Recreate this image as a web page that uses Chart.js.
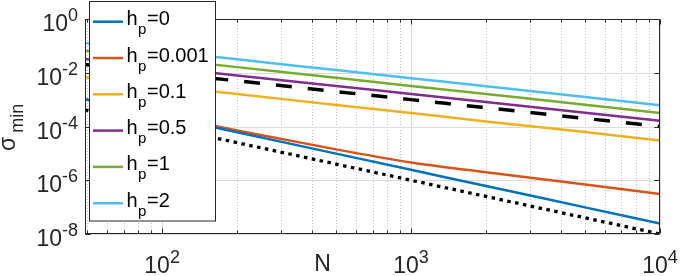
<!DOCTYPE html>
<html>
<head>
<meta charset="utf-8">
<script src="https://cdn.jsdelivr.net/npm/chart.js@4.4.1/dist/chart.umd.min.js"></script>
<style>
    html, body { margin: 0; padding: 0; background: #fff; }
    #wrap { width: 680px; height: 276px; }
</style>
</head>
<body>
<div id="wrap"><canvas id="sigmaChart" width="680" height="276"></canvas></div>
<script>
// Data (N on x, sigma_min on y)
const nValues = [49, 100, 200, 500, 1000, 2000, 5000, 10000];
const hp0 = [1.02e-3, 2.45e-4, 6.1e-5, 9.8e-6, 2.45e-6, 6.1e-7, 9.8e-8, 2.45e-8];
const hp0001 = [1.06e-3, 2.7e-4, 7.1e-5, 1.41e-5, 4.6e-6, 2.0e-6, 6.9e-7, 3.1e-7];
const hp01 = [6.75e-3, 3.24e-3, 1.62e-3, 6.3e-4, 3.16e-4, 1.55e-4, 6.2e-5, 3.0e-5];
const hp05 = [3.22e-2, 1.58e-2, 7.9e-3, 3.24e-3, 1.62e-3, 8.1e-4, 3.24e-4, 1.62e-4];
const hp1 = [6.6e-2, 3.24e-2, 1.62e-2, 6.46e-3, 3.24e-3, 1.62e-3, 6.46e-4, 3.16e-4];
const hp2 = [0.128, 6.3e-2, 3.16e-2, 1.26e-2, 6.3e-3, 3.16e-3, 1.26e-3, 6.2e-4];
const refDashed = [2.04e-2, 1e-2, 5e-3, 2e-3, 1e-3, 5e-4, 2e-4, 1e-4];
const refDotted = [4.16e-4, 1e-4, 2.5e-5, 4e-6, 1e-6, 2.5e-7, 4e-8, 1e-8];

const legendLabels = ['0', '0.001', '0.1', '0.5', '1', '2'];
const colors = ['#0072BD', '#D95319', '#EDB120', '#7E2F8E', '#77AC30', '#4DBEEE'];

// Ticks
const xMajorTicks = [100, 1000, 10000];
const xTickExp = ['2', '3', '4'];
const xMinorTicks = [50, 60, 70, 80, 90, 200, 300, 400, 500, 600, 700, 800, 900,
    2000, 3000, 4000, 5000, 6000, 7000, 8000, 9000];
const yMajorTicks = [1, 1e-2, 1e-4, 1e-6, 1e-8];
const yTickExp = ['0', '-2', '-4', '-6', '-8'];

const FONT = '"Liberation Sans", Arial, sans-serif';
const font = (size) => `${size}px ${FONT}`;

const toPoints = (ys) => nValues.map((n, i) => ({ x: n, y: ys[i] }));

const seriesList = [hp0, hp0001, hp01, hp05, hp1, hp2];

const datasets = seriesList.map((ys, i) => ({
    label: 'h_p=' + legendLabels[i],
    data: toPoints(ys),
    borderColor: colors[i],
    borderWidth: 2.5
}));
datasets.push({
    label: 'ref 1/N',
    data: toPoints(refDashed),
    borderColor: '#000',
    borderWidth: 3.5,
    borderDash: [16, 16],
    borderCapStyle: 'butt'
});
datasets.push({
    label: 'ref 1/N^2',
    data: toPoints(refDotted),
    borderColor: '#000',
    borderWidth: 3.3,
    borderDash: [3.5, 4.5],
    borderCapStyle: 'butt'
});

const line = (ctx, x1, y1, x2, y2) => {
    ctx.beginPath();
    ctx.moveTo(x1, y1);
    ctx.lineTo(x2, y2);
    ctx.stroke();
};

// "10" with a raised exponent
const drawPower = (ctx, exp, x, baseline, align) => {
    ctx.font = font(23);
    const wBase = ctx.measureText('10').width;
    ctx.font = font(18);
    const wExp = ctx.measureText(exp).width;
    const total = wBase + wExp;
    let left = x;
    if (align === 'center') left = x - total / 2;
    if (align === 'right') left = x - total;
    ctx.textAlign = 'left';
    ctx.textBaseline = 'alphabetic';
    ctx.font = font(23);
    ctx.fillText('10', left, baseline);
    ctx.font = font(18);
    ctx.fillText(exp, left + wBase, baseline - 10);
};

const axesPlugin = {
    id: 'matlabAxes',
    beforeDatasetsDraw(chart) {
        const { ctx, chartArea: a, scales: { x, y } } = chart;
        ctx.save();
        ctx.lineWidth = 1;

        // minor grid (dotted)
        ctx.strokeStyle = '#bdbdbd';
        ctx.setLineDash([1, 2]);
        xMinorTicks.forEach(v => {
            const px = Math.round(x.getPixelForValue(v)) + 0.5;
            line(ctx, px, a.top, px, a.bottom);
        });
        ctx.setLineDash([]);

        // major grid
        ctx.strokeStyle = '#dcdcdc';
        xMajorTicks.forEach(v => {
            const px = Math.round(x.getPixelForValue(v)) + 0.5;
            line(ctx, px, a.top, px, a.bottom);
        });
        yMajorTicks.forEach(v => {
            const py = Math.round(y.getPixelForValue(v)) + 0.5;
            line(ctx, a.left, py, a.right, py);
        });
        ctx.restore();
    },
    afterDatasetsDraw(chart) {
        const { ctx, chartArea: a, scales: { x, y } } = chart;
        ctx.save();
        ctx.strokeStyle = '#262626';
        ctx.lineWidth = 1;
        const L = Math.round(a.left) + 0.5, R = Math.round(a.right) - 0.5;
        const T = Math.round(a.top) + 0.5, B = Math.round(a.bottom) - 0.5;
        ctx.strokeRect(L, T, R - L, B - T);

        // tick marks, pointing inwards
        xMajorTicks.forEach(v => {
            const px = Math.round(x.getPixelForValue(v)) + 0.5;
            line(ctx, px, B, px, B - 5);
            line(ctx, px, T, px, T + 5);
        });
        xMinorTicks.forEach(v => {
            const px = Math.round(x.getPixelForValue(v)) + 0.5;
            line(ctx, px, B, px, B - 3);
            line(ctx, px, T, px, T + 3);
        });
        yMajorTicks.forEach(v => {
            const py = Math.round(y.getPixelForValue(v)) + 0.5;
            line(ctx, L, py, L + 5, py);
            line(ctx, R, py, R - 5, py);
        });

        // tick labels
        ctx.fillStyle = '#262626';
        xMajorTicks.forEach((v, i) => {
            drawPower(ctx, xTickExp[i], x.getPixelForValue(v), 273, 'center');
        });
        yMajorTicks.forEach((v, i) => {
            drawPower(ctx, yTickExp[i], 78, y.getPixelForValue(v) + 12, 'right');
        });

        // axis titles
        ctx.font = font(23);
        ctx.textAlign = 'center';
        ctx.fillText('N', 322.5, 271);

        ctx.translate(15, 151);
        ctx.rotate(-Math.PI / 2);
        ctx.textAlign = 'left';
        ctx.font = font(23);
        ctx.fillText('σ', 0, 0);
        const wSig = ctx.measureText('σ').width;
        ctx.font = font(18);
        ctx.fillText('min', wSig + 4, 8);
        ctx.restore();
    },
    afterDraw(chart) {
        const { ctx } = chart;
        ctx.save();
        // legend box
        ctx.fillStyle = '#fff';
        ctx.fillRect(89, 1.5, 126, 219.5);
        ctx.strokeStyle = '#262626';
        ctx.lineWidth = 1;
        ctx.strokeRect(89.5, 1.5, 126, 219.5);

        legendLabels.forEach((lbl, i) => {
            const cy = 21.7 + i * 36.3;
            ctx.strokeStyle = colors[i];
            ctx.lineWidth = 2.5;
            line(ctx, 93, cy, 123, cy);

            ctx.fillStyle = '#000';
            ctx.textAlign = 'left';
            ctx.textBaseline = 'alphabetic';
            const base = cy + 3.5;
            ctx.font = font(20);
            ctx.fillText('h', 126.5, base);
            const wh = ctx.measureText('h').width;
            ctx.font = font(15);
            ctx.fillText('p', 126.5 + wh + 0.5, base + 9);
            const wp = ctx.measureText('p').width;
            ctx.font = font(20);
            ctx.fillText('=' + lbl, 126.5 + wh + wp + 1, base);
        });
        ctx.restore();
    }
};

const ctx = document.getElementById('sigmaChart').getContext('2d');

new Chart(ctx, {
    type: 'line',
    data: { datasets },
    options: {
        responsive: false,
        animation: false,
        devicePixelRatio: 1,
        layout: { padding: { top: 19, right: 20, left: 0, bottom: 0 } },
        elements: {
            point: { radius: 0 },
            line: { cubicInterpolationMode: 'monotone', fill: false }
        },
        plugins: {
            legend: { display: false },
            tooltip: { enabled: false }
        },
        scales: {
            x: {
                type: 'logarithmic',
                min: 49,
                max: 10000,
                ticks: { display: false },
                grid: { display: false },
                border: { display: false },
                afterFit: (scale) => { scale.height = 42; }
            },
            y: {
                type: 'logarithmic',
                min: 1e-8,
                max: 1,
                ticks: { display: false },
                grid: { display: false },
                border: { display: false },
                afterFit: (scale) => { scale.width = 85; }
            }
        }
    },
    plugins: [axesPlugin]
});
</script>
</body>
</html>
